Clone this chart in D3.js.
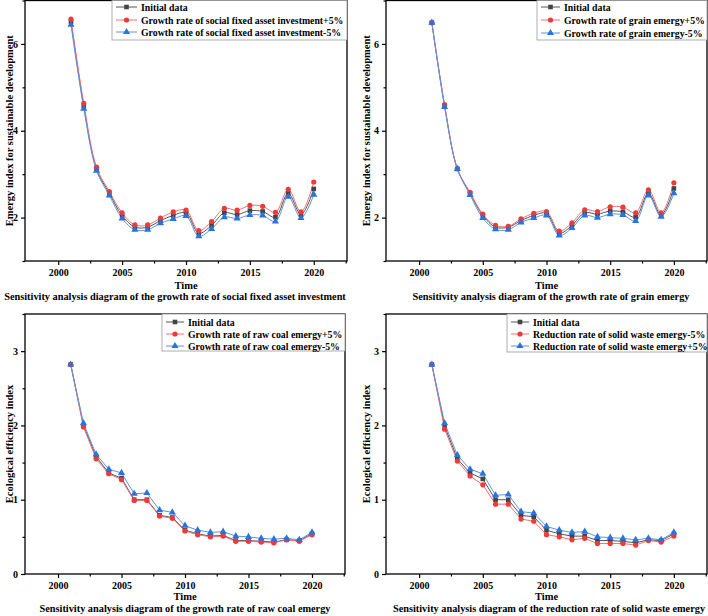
<!DOCTYPE html>
<html>
<head>
<meta charset="utf-8">
<script src="https://cdn.jsdelivr.net/npm/d3@7/dist/d3.min.js"></script>
<style>
html,body{margin:0;padding:0;background:#fff;}
svg{display:block;font-family:"Liberation Serif","Times New Roman",serif;font-weight:bold;}
</style>
</head>
<body>
<svg id="chart" width="708" height="616"></svg>
<script>
const years = d3.range(2001, 2021);

// Panel A: social fixed asset investment
const aInitial = [6.51,4.57,3.12,2.56,2.05,1.78,1.78,1.93,2.05,2.11,1.64,1.82,2.11,2.07,2.16,2.14,2.01,2.56,2.07,2.66];
const aPlus    = [6.57,4.63,3.16,2.60,2.11,1.83,1.83,1.99,2.13,2.17,1.70,1.91,2.21,2.17,2.28,2.26,2.12,2.65,2.13,2.82];
const aMinus   = [6.44,4.51,3.08,2.51,1.98,1.72,1.72,1.87,1.97,2.04,1.57,1.74,2.01,1.98,2.06,2.05,1.91,2.48,1.99,2.53];

// Panel B: grain emergy
const bInitial = [6.49,4.57,3.12,2.56,2.05,1.78,1.78,1.93,2.05,2.10,1.64,1.82,2.11,2.08,2.15,2.13,2.01,2.56,2.06,2.67];
const bPlus    = [6.49,4.60,3.13,2.58,2.08,1.82,1.80,1.97,2.10,2.14,1.69,1.88,2.18,2.14,2.25,2.24,2.11,2.64,2.11,2.80];
const bMinus   = [6.49,4.55,3.12,2.52,1.99,1.73,1.72,1.89,1.99,2.05,1.59,1.76,2.05,2.00,2.08,2.06,1.92,2.51,2.02,2.56];

// Panel C: raw coal emergy
const cInitial = [2.82,2.00,1.58,1.36,1.29,1.00,1.00,0.79,0.76,0.59,0.54,0.51,0.52,0.45,0.45,0.44,0.43,0.46,0.45,0.54];
const cPlus    = [2.82,1.98,1.55,1.35,1.27,0.99,0.99,0.78,0.75,0.58,0.53,0.50,0.51,0.44,0.44,0.43,0.42,0.46,0.44,0.53];
const cMinus   = [2.82,2.03,1.61,1.41,1.36,1.08,1.09,0.86,0.83,0.65,0.59,0.56,0.57,0.51,0.50,0.48,0.47,0.48,0.46,0.56];

// Panel D: solid waste emergy
const dInitial = [2.82,1.99,1.55,1.36,1.28,1.00,1.00,0.79,0.77,0.59,0.54,0.51,0.51,0.45,0.45,0.44,0.42,0.46,0.45,0.54];
const dMinus5  = [2.82,1.95,1.52,1.32,1.20,0.94,0.94,0.74,0.71,0.53,0.50,0.46,0.48,0.41,0.41,0.41,0.39,0.45,0.43,0.51];
const dPlus5   = [2.82,2.03,1.60,1.41,1.35,1.06,1.07,0.84,0.82,0.64,0.59,0.56,0.57,0.50,0.49,0.48,0.46,0.48,0.46,0.56];

const xTicks = [2000, 2005, 2010, 2015, 2020];
const yTicksTop = [2, 4, 6];
const yTicksBottom = [0, 1, 2, 3];

const seriesStyle = [
  {color:"#444444", line:"#555555", marker:"square"},
  {color:"#f03a3a", line:"#f47070", marker:"circle"},
  {color:"#2a72dc", line:"#5a94e6", marker:"triangle"}
];

const panels = [
  {x0:25, x1:347, y0:0.5, y1:261, ydom:[1,7], yticks:yTicksTop, yminor:[1,3,5,7], curve:d3.curveCatmullRom,
   ytitle:"Emergy index for sustainable development", ytx:9,
   series:[aInitial,aPlus,aMinus],
   names:["Initial data","Growth rate of social fixed asset investment+5%","Growth rate of social fixed asset investment-5%"],
   leg:{x0:112, x1:347, y0:0.5, y1:40, rows:[7,20,32], tx:141},
   timeY:289, title:"Sensitivity analysis diagram of the growth rate of social fixed asset investment", titleY:300, titleX:175},
  {x0:386, x1:707, y0:0.5, y1:261, ydom:[1,7], yticks:yTicksTop, yminor:[1,3,5,7], curve:d3.curveCatmullRom,
   ytitle:"Emergy index for sustainable development", ytx:366,
   series:[bInitial,bPlus,bMinus],
   names:["Initial data","Growth rate of grain emergy+5%","Growth rate of grain emergy-5%"],
   leg:{x0:537, x1:707, y0:0.5, y1:40, rows:[7,20,33], tx:564},
   timeY:289, title:"Sensitivity analysis diagram of the growth rate of grain emergy", titleY:300, titleX:551},
  {x0:25, x1:345, y0:314, y1:574, ydom:[0,3.5], yticks:yTicksBottom, yminor:[0.5,1.5,2.5,3.5], curve:d3.curveLinear,
   ytitle:"Ecological efficiency index", ytx:9,
   series:[cInitial,cPlus,cMinus],
   names:["Initial data","Growth rate of raw coal emergy+5%","Growth rate of raw coal emergy-5%"],
   leg:{x0:162, x1:345, y0:314, y1:351, rows:[322,334,346], tx:188},
   timeY:600, title:"Sensitivity analysis diagram of the growth rate of raw coal emergy", titleY:612, titleX:185},
  {x0:386, x1:707, y0:314, y1:574, ydom:[0,3.5], yticks:yTicksBottom, yminor:[0.5,1.5,2.5,3.5], curve:d3.curveLinear,
   ytitle:"Ecological efficiency index", ytx:366,
   series:[dInitial,dMinus5,dPlus5],
   names:["Initial data","Reduction rate of solid waste emergy-5%","Reduction rate of solid waste emergy+5%"],
   leg:{x0:507, x1:707, y0:314, y1:352, rows:[322,334,346], tx:533},
   timeY:600, title:"Sensitivity analysis diagram of the reduction rate of solid waste emergy", titleY:612, titleX:549}
];

const svg = d3.select("#chart");

function drawMarker(g, type, x, y, color) {
  if (type === "square") {
    g.append("rect").attr("x", x-2.3).attr("y", y-2.3).attr("width", 4.6).attr("height", 4.6).attr("fill", color);
  } else if (type === "circle") {
    g.append("circle").attr("cx", x).attr("cy", y).attr("r", 2.6).attr("fill", color);
  } else {
    g.append("path").attr("d", d3.symbol(d3.symbolTriangle, 22)()).attr("transform", `translate(${x},${y})`).attr("fill", color);
  }
}

panels.forEach(p => {
  const g = svg.append("g");
  const x = d3.scaleLinear().domain([1997.4, 2022.6]).range([p.x0, p.x1]);
  const y = d3.scaleLinear().domain(p.ydom).range([p.y1, p.y0]);

  const xAxis = d3.axisBottom(x).tickValues(xTicks).tickSize(4).tickPadding(4).tickFormat(d3.format("d"));
  const xg = g.append("g").attr("transform", `translate(0,${p.y1})`).call(xAxis);
  const xMinor = d3.axisBottom(x).tickValues([2002.5,2007.5,2012.5,2017.5,2022.5].filter(v=>x(v)<=p.x1)).tickSize(2.5).tickFormat("");
  const xmg = g.append("g").attr("transform", `translate(0,${p.y1})`).call(xMinor);
  const yAxis = d3.axisLeft(y).tickValues(p.yticks).tickSize(4).tickPadding(3).tickFormat(d3.format("d"));
  const yg = g.append("g").attr("transform", `translate(${p.x0},0)`).call(yAxis);
  const yMinor = d3.axisLeft(y).tickValues(p.yminor).tickSize(2.5).tickFormat("");
  const ymg = g.append("g").attr("transform", `translate(${p.x0},0)`).call(yMinor);
  [xg, xmg, yg, ymg].forEach(a => {
    a.select(".domain").remove();
    a.selectAll("line").attr("stroke", "#000").attr("stroke-width", 1.2);
    a.selectAll("text").attr("font-family", "Liberation Serif").attr("font-weight", "bold").attr("font-size", 10).attr("fill", "#000");
  });

  g.append("rect").attr("x", p.x0).attr("y", p.y0).attr("width", p.x1 - p.x0).attr("height", p.y1 - p.y0)
    .attr("fill", "none").attr("stroke", "#000").attr("stroke-width", 1.3);

  p.series.forEach((vals, i) => {
    const st = seriesStyle[i];
    const line = d3.line().x((d, j) => x(years[j])).y(d => y(d)).curve(p.curve);
    g.append("path").attr("d", line(vals)).attr("fill", "none").attr("stroke", st.line).attr("stroke-width", 1);
  });
  p.series.forEach((vals, i) => {
    const st = seriesStyle[i];
    vals.forEach((v, j) => drawMarker(g, st.marker, x(years[j]), y(v), st.color));
  });

  const L = p.leg;
  g.append("rect").attr("x", L.x0).attr("y", L.y0).attr("width", L.x1 - L.x0).attr("height", L.y1 - L.y0)
    .attr("fill", "#fff").attr("stroke", "#999").attr("stroke-width", 0.8);
  p.names.forEach((n, i) => {
    const st = seriesStyle[i];
    const ly = L.rows[i];
    g.append("line").attr("x1", L.x0 + 4).attr("x2", L.tx - 4).attr("y1", ly).attr("y2", ly).attr("stroke", st.line).attr("stroke-width", 1);
    drawMarker(g, st.marker, (L.x0 + L.tx) / 2, ly, st.color);
    g.append("text").attr("x", L.tx).attr("y", ly + 3.5).attr("font-size", 9.8).attr("fill", "#000").text(n);
  });

  const yc = (p.y0 + p.y1) / 2;
  g.append("text").attr("transform", `translate(${p.ytx},${yc}) rotate(-90)`).attr("text-anchor", "middle")
    .attr("dy", "0.35em").attr("font-size", 10.5).attr("fill", "#000").text(p.ytitle);
  g.append("text").attr("x", x(2010)).attr("y", p.timeY).attr("text-anchor", "middle").attr("font-size", 10.5).attr("fill", "#000").text("Time");
  g.append("text").attr("x", p.titleX).attr("y", p.titleY).attr("text-anchor", "middle").attr("font-size", 10.3).attr("fill", "#000").text(p.title);
});
</script>
</body>
</html>
